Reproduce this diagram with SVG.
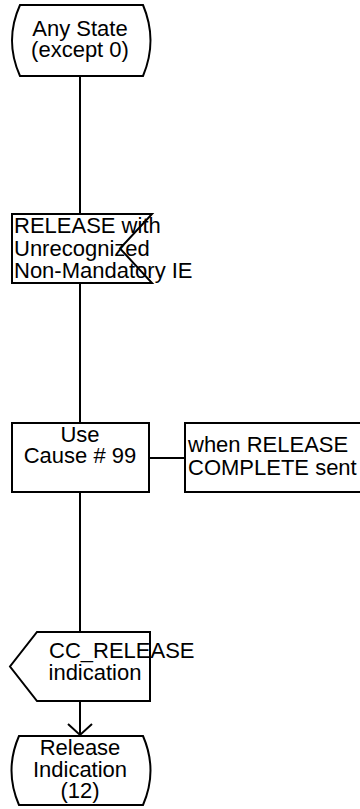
<svg xmlns="http://www.w3.org/2000/svg" width="360" height="809" viewBox="0 0 360 809">
<style>
.s{fill:#fff;stroke:#000;stroke-width:2}
.l{fill:none;stroke:#000;stroke-width:2}
text{font-family:"Liberation Sans",Arial,sans-serif;font-size:22px;fill:#000}
.c{text-anchor:middle}
</style>
<rect width="360" height="809" fill="#fff"/>
<g id="connectors">
<line class="l" x1="80" y1="76" x2="80" y2="214"/>
<line class="l" x1="80" y1="283" x2="80" y2="423"/>
<line class="l" x1="80" y1="492" x2="80" y2="632"/>
<line class="l" x1="149" y1="458" x2="185" y2="458"/>
<line class="l" x1="80" y1="701" x2="80" y2="735"/>
<polyline class="l" points="68,724 80,735 92,724"/>
</g>
<g id="start">
<path class="s" d="M20,5 L143,5 Q158,40.5 143,76 L20,76 Q4,40.5 20,5 Z"/>
<text class="c" x="80" y="36">Any State</text>
<text class="c" x="80" y="57">(except 0)</text>
</g>
<g id="input">
<path class="s" d="M12,214 L152,214 L120,248.5 L152,283 L12,283 Z"/>
<text x="14" y="233">RELEASE with</text>
<text x="14" y="256">Unrecognized</text>
<text x="14" y="278">Non-Mandatory IE</text>
</g>
<g id="task">
<rect class="s" x="12" y="423" width="137" height="69"/>
<text class="c" x="80" y="442">Use</text>
<text class="c" x="80" y="463">Cause # 99</text>
</g>
<g id="comment">
<rect class="s" x="185" y="423" width="180" height="69"/>
<text x="188" y="452">when RELEASE</text>
<text x="188" y="475">COMPLETE sent</text>
</g>
<g id="output">
<path class="s" d="M37,632 L150,632 L150,701 L37,701 L10,666.5 Z"/>
<text x="49" y="658">CC_RELEASE</text>
<text class="c" x="95" y="680">indication</text>
</g>
<g id="end">
<path class="s" d="M19,736 L143,736 Q158,770.5 143,805 L19,805 Q4,770.5 19,736 Z"/>
<text class="c" x="80" y="755">Release</text>
<text class="c" x="80" y="777">Indication</text>
<text class="c" x="80" y="798">(12)</text>
</g>
</svg>
